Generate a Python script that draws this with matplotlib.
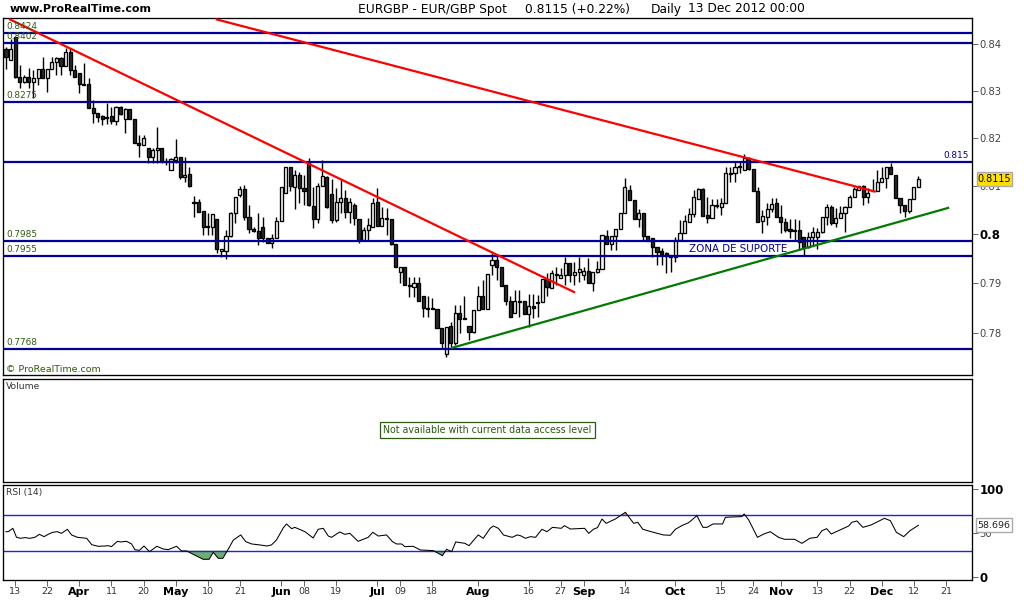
import matplotlib
matplotlib.use("Agg")
import matplotlib.pyplot as plt
import numpy as np
from matplotlib.patches import Rectangle
from matplotlib.ticker import NullFormatter, NullLocator, FixedLocator

plt.rcParams['font.family'] = ['DejaVu Sans']

opens = [8389,8366,8415,8330,8319,8330,8319,8328,8347,8328,8347,8362,8370,8353,8383,8345,8338,8313,8315,8264,
8253,8247,8243,8247,8236,8266,8240,8260,8240,8190,8185,8179,8160,8175,8179,8152,8133,8154,8160,8119,
8125,8067,8067,8048,8017,8015,8031,7965,7965,7996,8044,8081,8094,8035,8010,8006,8015,7992,7982,7992,
8027,8085,8138,8098,8123,8096,8148,8058,8031,8100,8119,8083,8029,8067,8075,8046,8060,8031,7988,8008,
8015,8067,8017,8033,8031,7980,7922,7933,7896,7892,7900,7874,7850,7850,7848,7810,7758,7814,7780,7840,
7830,7814,7802,7846,7874,7848,7937,7947,7933,7896,7864,7840,7862,7864,7838,7854,7862,7862,7908,7890,
7918,7910,7916,7941,7916,7922,7916,7925,7900,7922,7929,7996,7980,7996,8010,8044,8092,8071,8031,8044,
7996,7992,7973,7965,7961,7957,7953,7988,8002,8025,8042,8073,8094,8040,8033,8058,8056,8065,8125,8127,
8142,8133,8158,8135,8088,8027,8035,8052,8065,8035,8025,8010,8006,8008,7994,7973,7994,7994,8004,8035,
8056,8023,8033,8044,8056,8077,8092,8100,8077,8088,8088,8108,8117,8138,8123,8075,8060,8048,8073,8098]
highs = [8394,8411,8415,8355,8334,8349,8345,8347,8372,8347,8372,8372,8372,8391,8391,8355,8338,8360,8328,8281,
8253,8249,8274,8266,8268,8268,8264,8262,8240,8206,8206,8179,8179,8223,8179,8158,8158,8198,8160,8160,
8140,8079,8073,8048,8044,8042,8031,7969,8008,8046,8077,8100,8102,8060,8015,8044,8035,7992,8000,8035,
8098,8138,8138,8133,8129,8123,8158,8098,8106,8154,8121,8113,8096,8113,8092,8075,8065,8031,8015,8033,
8075,8096,8056,8054,8031,7980,7933,7933,7912,7912,7912,7874,7874,7870,7848,7810,7812,7822,7856,7856,
7874,7814,7846,7894,7906,7918,7961,7957,7933,7896,7874,7886,7886,7864,7878,7878,7876,7908,7920,7927,
7933,7931,7953,7941,7943,7953,7933,7951,7922,7945,7998,8008,7996,8010,8044,8117,8102,8071,8052,8044,
7996,7992,7973,7971,7963,7957,7994,8029,8040,8054,8092,8096,8096,8077,8073,8073,8075,8140,8140,8150,
8150,8167,8160,8135,8098,8050,8065,8075,8075,8060,8033,8031,8031,8029,7994,8004,8015,8013,8035,8062,
8060,8054,8058,8058,8081,8098,8100,8102,8096,8115,8133,8140,8140,8148,8123,8075,8060,8073,8098,8121]
lows = [8347,8366,8328,8306,8317,8306,8285,8313,8326,8298,8347,8334,8334,8353,8334,8330,8296,8313,8264,8232,
8234,8228,8230,8230,8228,8249,8211,8240,8190,8160,8185,8148,8148,8148,8148,8144,8133,8148,8113,8108,
8098,8035,8046,7998,7998,7998,7961,7953,7949,7994,8023,8077,8029,8002,8004,7978,7984,7982,7971,7992,
8027,8085,8088,8052,8065,8060,8058,8013,8023,8100,8054,8023,8025,8044,8033,8023,8019,7982,7988,7988,
8015,8017,8017,7998,7978,7933,7900,7896,7872,7872,7864,7832,7832,7848,7810,7770,7752,7772,7776,7800,
7828,7786,7800,7846,7848,7848,7916,7906,7894,7856,7832,7840,7832,7838,7812,7830,7832,7862,7874,7890,
7896,7910,7896,7902,7896,7902,7906,7900,7884,7920,7929,7980,7967,7967,8010,8044,8071,8031,8015,7988,
7986,7953,7937,7937,7920,7922,7943,7988,8002,8025,8035,8073,8037,8023,8033,8054,8040,8065,8108,8108,
8127,8133,8133,8088,8025,8002,8019,8046,8035,8002,8004,7992,7988,7967,7957,7971,7978,7969,8002,8019,
8019,8015,8033,8004,8056,8077,8092,8060,8065,8088,8088,8108,8096,8125,8075,8044,8035,8044,8073,8098]
closes = [8372,8389,8330,8319,8330,8319,8328,8347,8328,8347,8362,8370,8353,8383,8345,8330,8315,8315,8264,8253,
8245,8240,8245,8236,8266,8251,8260,8240,8190,8185,8200,8160,8175,8179,8152,8150,8156,8160,8119,8123,
8100,8065,8046,8015,8015,8042,7969,7969,7996,8044,8077,8094,8035,8010,8006,7992,7992,7982,7992,8027,
8098,8138,8100,8123,8096,8088,8060,8031,8100,8121,8056,8029,8067,8075,8046,8067,8033,7988,8008,8019,
8065,8017,8033,8031,7980,7933,7933,7896,7894,7900,7864,7850,7848,7848,7810,7780,7812,7780,7840,7828,
7828,7802,7846,7874,7848,7918,7947,7933,7894,7864,7832,7864,7864,7838,7854,7850,7860,7908,7892,7920,
7916,7916,7941,7916,7922,7929,7925,7900,7922,7929,7998,7980,7996,8010,8044,8098,8071,8031,8044,7996,
7986,7973,7963,7959,7955,7953,7988,8002,8027,8042,8077,8094,8037,8033,8060,8060,8065,8127,8127,8138,
8138,8158,8135,8088,8025,8037,8052,8062,8035,8025,8008,8006,8008,7984,7973,7994,8004,8004,8035,8056,
8023,8033,8044,8056,8077,8094,8100,8077,8085,8090,8108,8117,8138,8125,8075,8060,8048,8073,8098,8115]

support_levels = [0.8424, 0.8402, 0.8275, 0.815, 0.7985, 0.7955, 0.7768]
left_labels = ["0.8424", "0.8402", "0.8275", None, "0.7985", "0.7955", "0.7768"]

red_line_a_x, red_line_a_y = [0.9, 123.9], [0.8453, 0.7882]
red_line_b_x, red_line_b_y = [46.0, 189.5], [0.8453, 0.8088]
green_line_x, green_line_y = [97.3, 205.5], [0.7770, 0.8054]

rsi_pos = [0,0.5,1.5,2.3,3.2,4.1,5.2,6.3,7.3,8.3,9.2,10.2,11.2,12.1,13.4,14.3,15.6,17.6,18.7,20.1,
21.6,22.3,23,24.3,25,26.3,27.4,28.1,29.1,30.1,31.3,32.9,34.3,35.4,37.2,38.3,39.4,41.6,43,44.3,
45.2,46.3,47.3,48.3,49.6,51.2,52.3,53.6,55.4,56.9,57.9,59,60.5,61.2,62.3,63,65.2,67,68.1,69.2,
70.3,71,72.8,73.9,75,76.8,79,80,81.2,83,84.3,85.2,86.3,87,88.8,90.4,93.2,95.2,96.1,97.2,
98.1,100.1,101,103,104.1,105.6,106.3,107.4,108.5,110.4,111.5,112.2,113.3,114.4,115.5,116.9,118,119.2,121.1,121.8,
123.1,126.2,127.1,128.2,129,130,130.9,132.9,135.1,136.9,137.8,138.9,140.9,143.4,144.9,146,147.4,148.9,150.7,152,
152.9,154.2,156.3,156.9,158.3,160.5,161,162,163.9,165.3,166.7,168.5,169.8,172,173.6,175.3,176.9,178,179,180,
183.8,184.5,185.6,186.9,188.7,191.6,192.9,194.2,195.8,197.2,199]
rsi_val = [51.5,51.5,55.3,45.1,44.0,44.8,44.0,45.1,48.5,45.9,48.5,50.8,51.5,49.6,54.2,47.8,45.1,44.0,36.8,35.0,
35.3,35.7,34.6,40.6,39.9,40.6,37.6,31.2,30.4,35.3,28.9,35.0,31.9,31.2,35.0,29.7,29.7,24.0,20.3,20.3,
28.2,21.4,21.4,30.1,42.1,47.8,40.2,37.6,36.5,35.3,36.5,42.1,56.0,60.2,54.9,56.4,51.5,44.4,54.2,55.3,
46.6,45.1,51.2,48.5,49.6,40.6,45.1,50.8,46.6,47.8,40.2,37.6,37.6,34.6,35.0,30.8,30.1,24.4,31.6,28.9,
39.9,38.3,35.7,47.8,44.0,55.3,57.9,55.3,47.8,45.1,47.8,47.0,44.0,45.9,45.1,54.2,51.5,56.4,55.3,58.3,
54.5,55.3,49.6,54.5,56.0,65.8,60.9,65.8,73.4,60.9,62.1,54.2,51.2,47.8,47.4,54.2,58.3,61.7,69.6,56.4,
56.4,60.2,60.2,67.7,68.1,68.5,71.5,64.7,45.1,48.9,51.5,45.1,42.9,42.9,38.3,44.0,45.1,52.7,54.9,48.9,
57.9,62.1,63.6,56.4,59.1,66.6,63.9,50.8,45.9,52.7,58.7]
rsi_levels = [70, 30]

date_ticks = [2,9,16,23,30,37,44,51,60,65,72,81,86,93,103,114,121,126,135,146,156,163,169,177,184,191,198,205]
date_labels = ["13","22","Apr","11","20","May","10","21","Jun","08","19","Jul","09","18","Aug","16","27","Sep","14","Oct","15","24","Nov","13","22","Dec","12","21"]
months = {"Apr","May","Jun","Jul","Aug","Sep","Oct","Nov","Dec"}

price_ticks = [0.84,0.83,0.82,0.81,0.8,0.79,0.78]
price_tick_labels = ["0.84","0.83","0.82","0.81","0.8","0.79","0.78"]
rsi_ticks = [100,50,0]

W, H = 1024, 600
fig = plt.figure(figsize=(W/100, H/100), dpi=100, facecolor='white')
def panel(left, top, right, bottom):
    return fig.add_axes([left/W, 1-bottom/H, (right-left)/W, (bottom-top)/H])

ax = panel(3, 18, 972, 375)
ax_v = panel(3, 379, 972, 482)
ax_r = panel(3, 484.5, 972, 580)

XLIM = (-0.65, 210.7)
NAVY = '#000099'
GREENTXT = '#2d5a10'

o, h, l, c = [np.array(a)/1e4 for a in (opens, highs, lows, closes)]
x = np.arange(len(o))
up = c >= o
ax.set_yscale('log')
ax.vlines(x, l, h, color='black', lw=1.0, zorder=2)
ax.bar(x[up], (c-o)[up], bottom=o[up], width=0.68, facecolor='#f6f6f6', edgecolor='black', lw=0.95, zorder=3)
ax.bar(x[~up], (o-c)[~up], bottom=c[~up], width=0.68, facecolor='#2a2a2a', edgecolor='black', lw=0.95, zorder=3)

for lev, lab in zip(support_levels, left_labels):
    ax.axhline(lev, color=NAVY, lw=1.6, zorder=4)
    if lab:
        ax.annotate(lab, xy=(0, lev), xycoords=('axes fraction', 'data'), xytext=(3, 2),
                    textcoords='offset pixels', fontsize=6.4, color=GREENTXT, va='bottom', zorder=6)
ax.annotate("0.815", xy=(1, 0.815), xycoords=('axes fraction', 'data'), xytext=(-3, 2),
            textcoords='offset pixels', fontsize=6.4, color=NAVY, ha='right', va='bottom', zorder=6)

ax.plot(red_line_a_x, red_line_a_y, color='#ff0000', lw=1.6, zorder=5)
ax.plot(red_line_b_x, red_line_b_y, color='#ff0000', lw=1.6, zorder=5)
ax.plot(green_line_x, green_line_y, color='#007a00', lw=1.6, zorder=5)

ax.text(149, 0.79705, "ZONA DE SUPORTE", fontsize=7.4, color=NAVY, ha='left', va='center', zorder=6)
ax.text(0.0035, 0.004, "© ProRealTime.com", transform=ax.transAxes, fontsize=6.8, color=GREENTXT, va='bottom')

ax.set_xlim(*XLIM)
ax.set_ylim(0.7716, 0.84562)
ax.yaxis.set_major_locator(FixedLocator(price_ticks))
ax.yaxis.set_minor_locator(NullLocator())
ax.yaxis.set_minor_formatter(NullFormatter())
ax.set_yticklabels(price_tick_labels)
ax.yaxis.tick_right()
ax.tick_params(axis='y', length=4, width=0.7, color='#666666', labelsize=7.2, labelcolor='#444444', pad=1.5)
for lab, t in zip(ax.get_yticklabels(), price_tick_labels):
    if t == "0.8":
        lab.set_fontweight('bold')
        lab.set_fontsize(8.5)
        lab.set_color('black')
ax.set_xticks([])

# volume pane
ax_v.set_xlim(*XLIM); ax_v.set_ylim(0, 1)
ax_v.set_xticks([]); ax_v.set_yticks([])
ax_v.text(0.003, 0.975, "Volume", transform=ax_v.transAxes, fontsize=6.6, color='#333333', va='top')
ax_v.text(0.5, 0.505, "Not available with current data access level", transform=ax_v.transAxes,
          fontsize=6.85, color=GREENTXT, ha='center', va='center',
          bbox=dict(boxstyle='square,pad=0.32', fc='white', ec=GREENTXT, lw=0.9))

# RSI pane
rp, rv = np.array(rsi_pos), np.array(rsi_val)
ax_r.plot(rp, rv, color='black', lw=0.75, zorder=3)
for lev in rsi_levels:
    ax_r.axhline(lev, color='#2222dd', lw=1.0, zorder=2)
ax_r.fill_between(rp, rv, 30, where=rv < 30, interpolate=True, color='#6fae6f', lw=0, zorder=1)
ax_r.fill_between(rp, rv, 70, where=rv > 70, interpolate=True, color='#e89a9a', lw=0, zorder=1)
ax_r.text(0.0035, 0.96, "RSI (14)", transform=ax_r.transAxes, fontsize=6.6, color='#333333', va='top')
ax_r.set_xlim(*XLIM)
ax_r.set_ylim(-3.1, 104.8)
ax_r.yaxis.tick_right()
ax_r.set_yticks(rsi_ticks)
ax_r.set_yticklabels(["100", "50", "0"])
ax_r.tick_params(axis='y', length=4, width=0.7, color='#666666', pad=1.5)
for lab, t in zip(ax_r.get_yticklabels(), rsi_ticks):
    if t == 50:
        lab.set_fontsize(7.2); lab.set_color('#444444')
    else:
        lab.set_fontsize(8.5); lab.set_fontweight('bold')
ax_r.set_xticks(date_ticks)
ax_r.set_xticklabels(date_labels)
ax_r.tick_params(axis='x', length=4, width=0.7, color='#666666', pad=1, labelsize=6.8, labelcolor='#333333')
for lab, t in zip(ax_r.get_xticklabels(), date_labels):
    if t in months:
        lab.set_fontweight('bold'); lab.set_fontsize(8); lab.set_color('black')

for a in (ax, ax_v, ax_r):
    for s in a.spines.values():
        s.set_linewidth(0.95); s.set_color('black')

# header
fig.text(10/W, 1-9/H, "www.ProRealTime.com", fontsize=7.9, fontweight='bold', color='black', va='center')
fig.text(358/W, 1-9/H, "EURGBP - EUR/GBP Spot", fontsize=8.8, color='black', va='center')
fig.text(525/W, 1-9/H, "0.8115 (+0.22%)", fontsize=8.8, color='black', va='center')
fig.text(651/W, 1-9/H, "Daily", fontsize=8.8, color='black', va='center')
fig.text(688/W, 1-9/H, "13 Dec 2012 00:00", fontsize=8.8, color='black', va='center')

# value flags (drawn in figure space over the tick labels, as in the original)
def flag(left, top, right, bottom, fc):
    fig.add_artist(Rectangle((left/W, 1-bottom/H), (right-left)/W, (bottom-top)/H, transform=fig.transFigure,
                             fc=fc, ec='#aaaaaa', lw=1.0, zorder=9))
flag(977, 172, 1012, 186, '#ffe000')
flag(976, 518, 1012, 532, 'white')
fig.text(994.5/W, 1-179/H, "0.8115", fontsize=6.9, color='black', ha='center', va='center', zorder=10)
fig.text(994/W, 1-525/H, "58.696", fontsize=6.8, color='#222222', ha='center', va='center', zorder=10)

fig.savefig("out.png", dpi=100, facecolor='white')
